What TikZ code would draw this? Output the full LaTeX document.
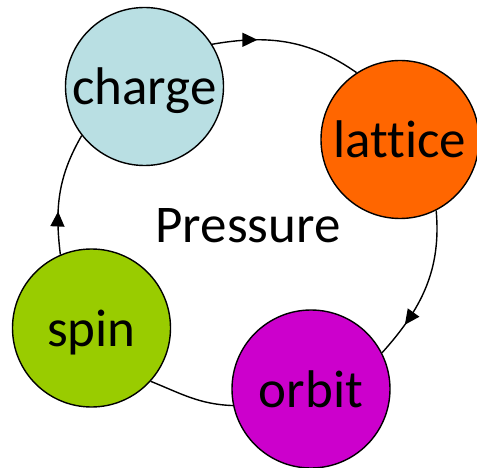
\documentclass[tikz,border=0pt]{standalone}
\usepackage{fontspec}
\setmainfont[Ligatures={NoCommon}]{Carlito}
\usetikzlibrary{arrows.meta,decorations.markings}
\definecolor{cblue}{HTML}{B9DFE3}
\definecolor{corange}{HTML}{FF6600}
\definecolor{cmagenta}{HTML}{CC00CC}
\definecolor{cgreen}{HTML}{99CC00}
\tikzset{
  ball/.style={circle, draw=black, line width=1.4pt, minimum size=158pt, inner sep=0pt,
    font=\fontsize{53}{62}\selectfont, text height=39pt, text depth=2pt},
  link/.style={line width=1.4pt, draw=black},
  midarrow/.style={postaction={decorate}, decoration={markings,
    mark=at position #1 with {\arrow{Triangle[length=15pt,width=14pt]}}}}
}
\begin{document}
\begin{tikzpicture}[x=1pt,y=-1pt]
\useasboundingbox (0,0) rectangle (477,468);
\node[ball, fill=cblue] (charge) at (144.5,86.5) {charge};
\node[ball, fill=corange] (lattice) at (400,139.5) {lattice};
\node[ball, fill=cmagenta] (orbit) at (311,389) {orbit};
\node[ball, fill=cgreen] (spin) at (91.5,328) {spin};
\node[anchor=base, inner sep=0pt, font=\fontsize{53}{62}\selectfont] (pressure) at (248,242) {Pressure};
\draw[link, midarrow=0.3] (charge.32) to[out=10, in=145] (lattice.123);
\draw[link, midarrow=0.77] (lattice.-63) to[out=-85, in=48] (orbit.27);
\draw[link] (orbit.192) to[out=178, in=-22] (spin.-42);
\draw[link, midarrow=0.35] (spin.113) to[out=97, in=240] (charge.-142);
\end{tikzpicture}
\end{document}
